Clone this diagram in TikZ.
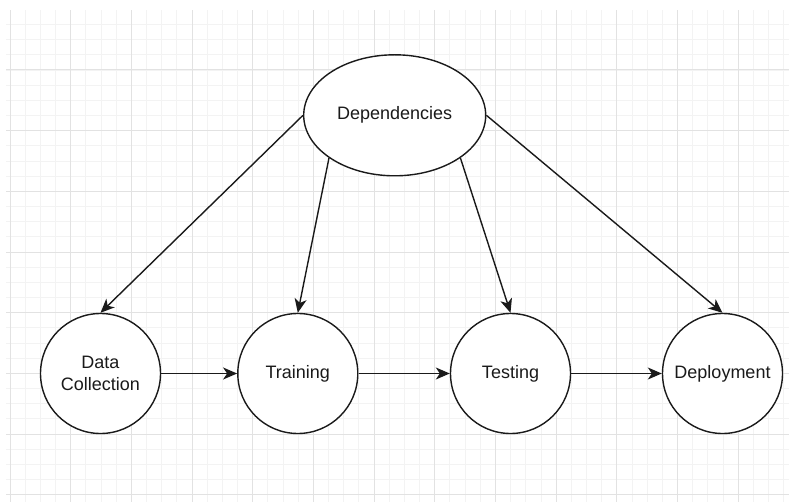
\documentclass[tikz,border=0pt]{standalone}
\usepackage{fontspec}
\setmainfont{Liberation Sans}
\usetikzlibrary{arrows.meta,shapes.geometric}
\definecolor{gridminor}{HTML}{F3F3F3}
\definecolor{gridmajor}{HTML}{E2E2E2}
\definecolor{inkline}{HTML}{1A1A1A}
\begin{document}
\begin{tikzpicture}[x=1pt,y=-1pt,
  stage/.style={circle, draw=inkline, line width=1.4pt, minimum size=120pt,
    inner sep=0pt, align=center, fill=white, text=inkline,
    font=\fontsize{18}{22}\selectfont},
  hub/.style={ellipse, draw=inkline, line width=1.4pt, minimum width=182pt,
    minimum height=121pt, inner sep=0pt, fill=white, text=inkline,
    font=\fontsize{18}{22}\selectfont},
  link/.style={draw=inkline, line width=1.4pt,
    -{Stealth[length=14pt,width=12pt,inset=4pt]}},
  minorline/.style={gridminor, line width=0.9pt},
  majorline/.style={gridmajor, line width=1pt}]
\useasboundingbox (0,0) rectangle (789,502);
\fill[white] (0,0) rectangle (789,502);

% background grid
\begin{scope}
  \clip (6,11) rectangle (789,502);
  \foreach \i in {0,...,52} {
    \draw[minorline] ({10+15.17*\i},0) -- ({10+15.17*\i},510);
  }
  \foreach \i in {0,...,33} {
    \draw[minorline] (0,{9.3+15.17*\i}) -- (800,{9.3+15.17*\i});
  }
  \foreach \i in {0,...,13} {
    \draw[majorline] ({10+60.68*\i},0) -- ({10+60.68*\i},510);
  }
  \foreach \i in {0,...,8} {
    \draw[majorline] (0,{9.3+60.68*\i}) -- (800,{9.3+60.68*\i});
  }
\end{scope}

% nodes
\node[hub] (dep) at (394.7,115.3) {Dependencies};
\node[stage] (dc) at (100.5,373.5) {Data\\Collection};
\node[stage] (tr) at (297.8,373.5) {Training};
\node[stage] (ts) at (510.5,373.5) {Testing};
\node[stage] (dp) at (722.5,373.5) {Deployment};

% dependency links
\draw[link] (dep.180) -- (dc.north);
\draw[link] (dep.213) -- (tr.north);
\draw[link] (dep.327) -- (ts.north);
\draw[link] (dep.0) -- (dp.north);

% pipeline
\draw[link] (dc.east) -- (tr.west);
\draw[link] (tr.east) -- (ts.west);
\draw[link] (ts.east) -- (dp.west);
\end{tikzpicture}
\end{document}
